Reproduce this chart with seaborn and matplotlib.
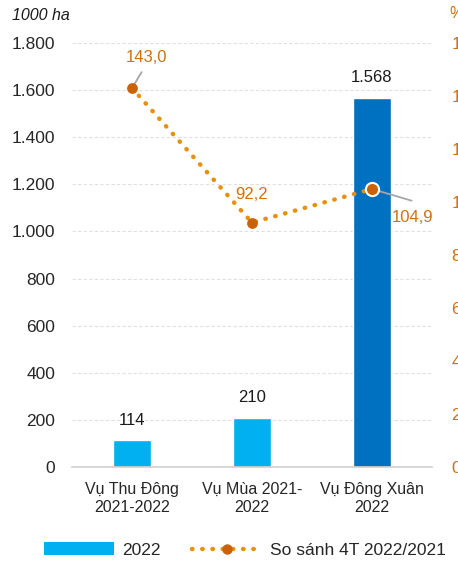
import matplotlib
matplotlib.use("Agg")
import matplotlib.pyplot as plt
import seaborn as sns
import pandas as pd
from matplotlib.lines import Line2D
from matplotlib.patches import Patch

categories = ["Vụ Thu Đông\n2021-2022", "Vụ Mùa 2021-\n2022", "Vụ Đông Xuân\n2022"]
area_2022 = [114, 210, 1568]
area_labels = ["114", "210", "1.568"]
ratio = [143.0, 92.2, 104.9]
ratio_labels = ["143,0", "92,2", "104,9"]
left_ticks = [0, 200, 400, 600, 800, 1000, 1200, 1400, 1600, 1800]
left_tick_labels = ["0", "200", "400", "600", "800", "1.000", "1.200", "1.400", "1.600", "1.800"]
right_ticks = [0, 20, 40, 60, 80, 100, 120, 140, 160]
right_tick_labels = ["0", "20", "40", "60", "80", "100", "120", "140", "160"]

sns.set_style("white")
plt.rcParams["font.family"] = ["Liberation Sans", "DejaVu Sans"]

bar_colors = ["#00B0F0", "#00B0F0", "#0070C0"]
line_color = "#E8900C"
marker_color = "#C9620A"
label_orange = "#D2700E"
dots = (0, (0.1, 2.2))

fig = plt.figure(figsize=(4.58, 5.62), dpi=100)
ax = fig.add_axes([72 / 458, 95 / 562, 360 / 458, 424 / 562])

df = pd.DataFrame({"cat": categories, "val": area_2022})
sns.barplot(data=df, x="cat", y="val", hue="cat", palette=bar_colors,
            width=0.32, legend=False, ax=ax, saturation=1)

ax.set_ylim(0, 1800)
ax.set_xlim(-0.5, 2.5)
ax.set_yticks(left_ticks)
ax.set_yticklabels(left_tick_labels, fontsize=12.5)
ax.set_xlabel("")
ax.set_ylabel("")
ax.tick_params(axis="x", labelsize=11.5, length=0, pad=11)
ax.tick_params(axis="y", length=0, pad=12)
for t in ax.get_xticklabels():
    t.set_linespacing(1.2)
ax.yaxis.grid(True, color="#E0E0E0", linestyle=(0, (3, 2)), linewidth=0.8)
ax.set_axisbelow(True)
for s in ["top", "right", "left"]:
    ax.spines[s].set_visible(False)
ax.spines["bottom"].set_color("#D0D0D0")
ax.spines["bottom"].set_linewidth(1.2)

for i, (v, lab) in enumerate(zip(area_2022, area_labels)):
    ax.annotate(lab, (i, v), xytext=(0, 9), textcoords="offset points",
                ha="center", va="bottom", fontsize=12, color="#1A1A1A")

ax2 = ax.twinx()
ax2.set_ylim(0, 160)
xs = list(range(len(ratio)))
sns.lineplot(x=xs, y=ratio, ax=ax2, color=line_color, linewidth=3.2,
             linestyle=dots, sort=False)
for ln in ax2.get_lines():
    ln.set_dash_capstyle("round")
ax2.scatter(xs[:2], ratio[:2], s=60, color=marker_color, zorder=5, linewidths=0)
ax2.scatter(xs[2:], ratio[2:], s=90, color=marker_color, zorder=5,
            edgecolors="white", linewidths=1.5)
ax2.set_yticks(right_ticks)
ax2.set_yticklabels(right_tick_labels, fontsize=12.5, color=label_orange)
ax2.tick_params(axis="y", length=0, pad=14)
for s in ["top", "right", "left", "bottom"]:
    ax2.spines[s].set_visible(False)
ax2.set_xlim(-0.5, 2.5)

# value labels
ax2.plot([0.02, 0.08], [ratio[0] + 1.5, 149], color="#A6A6A6", linewidth=1.3, zorder=4)
ax2.text(0.125, 154.5, ratio_labels[0], ha="center", va="center", fontsize=12, color=label_orange)
ax2.text(1.0, 103, ratio_labels[1], ha="center", va="center", fontsize=12, color=label_orange)
ax2.plot([2.0, 2.33], [ratio[2], 100.5], color="#A6A6A6", linewidth=1.3, zorder=4)
ax2.text(2.34, 94.3, ratio_labels[2], ha="center", va="center", fontsize=12, color=label_orange)

fig.text(12 / 458, 1 - 15 / 562, "1000 ha", fontsize=11.5, style="italic",
         ha="left", va="center", color="#1A1A1A")
fig.text(449 / 458, 1 - 13 / 562, "%", fontsize=11.5, ha="left", va="center", color=label_orange)

handles = [Patch(facecolor="#00B0F0", edgecolor="none"),
           Line2D([0], [0], color=line_color, linewidth=3.2, linestyle=dots,
                  dash_capstyle="round", marker="o", markersize=7.5,
                  markerfacecolor=marker_color, markeredgewidth=0)]
fig.legend(handles, ["2022", "So sánh 4T 2022/2021"], loc="center",
           bbox_to_anchor=(0.535, 1 - 550 / 562), ncol=2, frameon=False, fontsize=12.5,
           handlelength=4.0, handleheight=0.7, columnspacing=1.8, handletextpad=0.5)

fig.savefig("out.png", dpi=100)
